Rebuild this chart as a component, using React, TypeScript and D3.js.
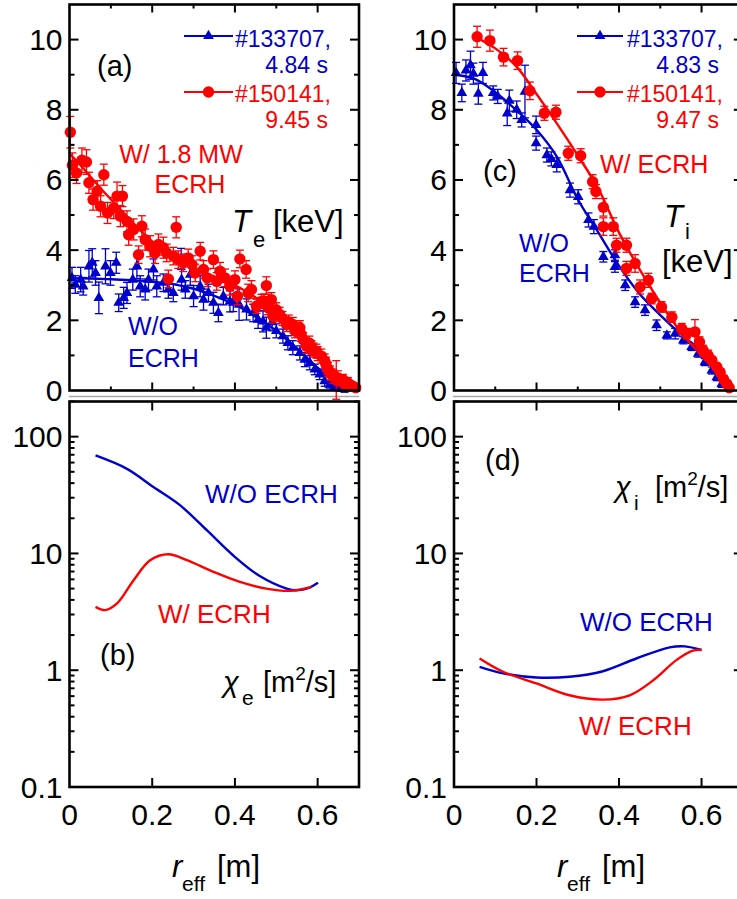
import React, { useEffect, useRef } from "react";
import * as d3 from "d3";

const BLUE = "#0000cc";
const RED = "#ff0000";
const FONT = "'Liberation Sans', Arial, Helvetica, sans-serif";

// (a) Te profiles, [r_eff, Te (keV), error]
const teBlue = [
  [0.006, 3.21, 0.3], [0.014, 3.02, 0.25], [0.027, 3.16, 0.35], [0.033, 2.97, 0.25],
  [0.047, 3.54, 0.45], [0.055, 3.64, 0.4], [0.063, 3.35, 0.35], [0.071, 2.64, 0.45],
  [0.087, 3.54, 0.5], [0.099, 3.35, 0.35], [0.113, 3.64, 0.3], [0.119, 2.5, 0.25],
  [0.131, 2.64, 0.3], [0.139, 2.78, 0.3], [0.153, 3.16, 0.3], [0.163, 3.54, 0.35],
  [0.171, 2.97, 0.3], [0.183, 2.88, 0.3], [0.191, 3.16, 0.3], [0.203, 3.45, 0.3],
  [0.211, 2.97, 0.3], [0.227, 3.07, 0.25], [0.239, 2.88, 0.25], [0.251, 2.78, 0.25],
  [0.27, 3.75, 0.3], [0.271, 3.16, 0.3], [0.28, 2.88, 0.25], [0.292, 3.3, 0.3],
  [0.3, 2.69, 0.3], [0.316, 2.97, 0.3], [0.324, 2.59, 0.3], [0.336, 2.78, 0.25],
  [0.348, 2.5, 0.3], [0.36, 2.21, 0.25], [0.372, 2.69, 0.25], [0.388, 2.54, 0.3],
  [0.396, 2.5, 0.25], [0.41, 2.45, 0.45], [0.428, 2.31, 0.3], [0.444, 2.21, 0.25],
  [0.456, 2.02, 0.25], [0.468, 1.97, 0.3], [0.476, 1.79, 0.3], [0.49, 1.95, 0.25],
  [0.5, 1.7, 0.2], [0.516, 1.55, 0.2], [0.528, 1.36, 0.2], [0.54, 1.22, 0.2],
  [0.557, 1.07, 0.2], [0.569, 0.88, 0.2], [0.581, 0.79, 0.2], [0.593, 0.6, 0.15],
  [0.605, 0.46, 0.15], [0.617, 0.27, 0.15], [0.629, 0.17, 0.1], [0.641, 0.12, 0.1],
  [0.653, 0.08, 0.1], [0.665, 0.05, 0.1],
];
const teRed = [
  [0.002, 7.36, 0.45], [0.007, 6.42, 0.35], [0.017, 6.2, 0.3], [0.03, 6.56, 0.35],
  [0.041, 6.51, 0.35], [0.047, 5.92, 0.3], [0.057, 5.44, 0.3], [0.067, 5.68, 0.3],
  [0.075, 5.25, 0.3], [0.083, 6.15, 0.3], [0.092, 5.06, 0.3], [0.107, 5.2, 0.3],
  [0.115, 5.54, 0.4], [0.123, 4.97, 0.3], [0.128, 5.54, 0.3], [0.139, 4.82, 0.3],
  [0.143, 4.44, 0.3], [0.155, 4.59, 0.3], [0.167, 3.87, 0.25], [0.175, 4.68, 0.3],
  [0.183, 4.3, 0.3], [0.195, 4.11, 0.3], [0.207, 3.92, 0.3], [0.215, 4.16, 0.3],
  [0.227, 4.07, 0.3], [0.235, 3.92, 0.25], [0.239, 3.18, 0.25], [0.251, 3.83, 0.25],
  [0.258, 4.65, 0.3], [0.263, 3.73, 0.25], [0.275, 3.64, 0.25], [0.287, 3.78, 0.25],
  [0.296, 3.59, 0.25], [0.304, 3.35, 0.25], [0.316, 3.97, 0.25], [0.324, 3.45, 0.25],
  [0.333, 3.21, 0.25], [0.348, 3.73, 0.25], [0.356, 3.11, 0.25], [0.364, 3.4, 0.25],
  [0.376, 3.21, 0.25], [0.388, 2.97, 0.25], [0.4, 3.16, 0.25], [0.406, 2.69, 0.25],
  [0.412, 3.75, 0.25], [0.427, 3.45, 0.25], [0.432, 2.78, 0.25], [0.44, 2.88, 0.25],
  [0.452, 2.4, 0.2], [0.464, 2.54, 0.2], [0.47, 2.55, 0.2], [0.476, 2.99, 0.25],
  [0.48, 2.36, 0.2], [0.488, 2.59, 0.2], [0.492, 2.12, 0.2], [0.5, 2.3, 0.2],
  [0.508, 2.17, 0.2], [0.515, 2.05, 0.2], [0.525, 1.88, 0.2], [0.53, 1.95, 0.2],
  [0.54, 1.88, 0.2], [0.545, 1.7, 0.2], [0.553, 1.74, 0.2], [0.557, 1.79, 0.2],
  [0.56, 1.6, 0.2], [0.565, 1.45, 0.2], [0.573, 1.26, 0.2], [0.58, 1.35, 0.2],
  [0.585, 1.22, 0.2], [0.59, 1.15, 0.2], [0.597, 1.12, 0.2], [0.6, 1.05, 0.2],
  [0.609, 0.98, 0.2], [0.617, 0.84, 0.2], [0.62, 0.75, 0.2], [0.625, 0.6, 0.2],
  [0.63, 0.5, 0.2], [0.637, 0.41, 0.2], [0.645, 0.3, 0.55], [0.649, 0.36, 0.2],
  [0.655, 0.28, 0.15], [0.661, 0.31, 0.15], [0.665, 0.2, 0.15], [0.673, 0.22, 0.15],
  [0.68, 0.15, 0.1], [0.685, 0.12, 0.1], [0.692, 0.08, 0.1],
];
// (a) fitted Te, [r_eff, Te]
const teBlueFit = [
  [0, 3.2], [0.05, 3.19], [0.1, 3.17], [0.15, 3.14], [0.2, 3.1], [0.25, 3.03], [0.3, 2.9],
  [0.35, 2.7], [0.4, 2.45], [0.45, 2.1], [0.5, 1.7], [0.55, 1.2], [0.6, 0.65], [0.65, 0.15], [0.68, 0.02],
];
const teRedFit = [
  [0, 6.75], [0.025, 6.44], [0.05, 6.1], [0.08, 5.7], [0.12, 5.2], [0.16, 4.7], [0.2, 4.25],
  [0.25, 3.85], [0.3, 3.5], [0.35, 3.25], [0.4, 3.0], [0.45, 2.65], [0.5, 2.25], [0.55, 1.8],
  [0.6, 1.15], [0.65, 0.45], [0.69, 0.1],
];

// (c) Ti profiles, [r_eff, Ti (keV), error]
const tiBlue = [
  [0.005, 9.05, 0.3], [0.019, 8.48, 0.25], [0.029, 9.12, 0.3], [0.04, 9.27, 0.4],
  [0.047, 9.03, 0.3], [0.059, 8.46, 0.3], [0.07, 9.05, 0.3], [0.095, 8.48, 0.2],
  [0.106, 8.38, 0.2], [0.129, 7.9, 0.35], [0.134, 8.26, 0.3], [0.152, 8.0, 0.25],
  [0.164, 7.71, 0.2], [0.172, 8.52, 0.75], [0.199, 7.57, 0.25], [0.199, 7.05, 0.2],
  [0.225, 6.71, 0.2], [0.236, 6.6, 0.2], [0.249, 6.43, 0.2], [0.281, 5.71, 0.2],
  [0.301, 5.52, 0.2], [0.326, 4.86, 0.2], [0.339, 4.67, 0.2], [0.362, 3.81, 0.15],
  [0.39, 3.86, 0.15], [0.39, 3.52, 0.15], [0.415, 3.0, 0.15], [0.439, 2.52, 0.15],
  [0.463, 2.29, 0.15], [0.491, 1.86, 0.15], [0.516, 1.57, 0.1], [0.536, 1.62, 0.15],
  [0.556, 1.43, 0.1], [0.576, 1.24, 0.1], [0.592, 1.05, 0.1], [0.608, 0.81, 0.1],
  [0.625, 0.57, 0.1], [0.637, 0.38, 0.1], [0.649, 0.19, 0.1],
];
const tiRed = [
  [0.056, 10.08, 0.3], [0.087, 9.97, 0.3], [0.12, 9.5, 0.25], [0.154, 9.4, 0.25],
  [0.184, 8.54, 0.25], [0.219, 7.9, 0.2], [0.247, 7.93, 0.2], [0.277, 6.76, 0.2],
  [0.307, 6.69, 0.2], [0.336, 5.95, 0.2], [0.344, 5.67, 0.2], [0.362, 5.22, 0.25],
  [0.362, 4.67, 0.25], [0.386, 4.67, 0.25], [0.394, 4.14, 0.2], [0.418, 4.14, 0.2],
  [0.418, 3.48, 0.2], [0.439, 3.62, 0.25], [0.451, 2.95, 0.2], [0.471, 3.14, 0.2],
  [0.479, 2.62, 0.15], [0.503, 2.38, 0.15], [0.528, 2.09, 0.15], [0.552, 1.76, 0.15],
  [0.564, 1.62, 0.15], [0.584, 1.67, 0.35], [0.595, 1.38, 0.15], [0.604, 1.14, 0.15],
  [0.616, 1.0, 0.15], [0.625, 0.86, 0.1], [0.637, 0.67, 0.1], [0.645, 0.52, 0.1],
  [0.653, 0.33, 0.1], [0.661, 0.19, 0.1], [0.667, 0.08, 0.1],
];
// (c) fitted Ti, [r_eff, Ti]
const tiBlueFit = [
  [0, 9.0], [0.05, 8.88], [0.1, 8.5], [0.15, 8.0], [0.2, 7.43], [0.25, 6.65], [0.3, 5.45],
  [0.35, 4.5], [0.4, 3.55], [0.45, 2.75], [0.5, 2.15], [0.55, 1.6], [0.6, 1.1], [0.65, 0.3], [0.66, 0.1],
];
const tiRedFit = [
  [0.056, 10.05], [0.1, 9.75], [0.15, 9.25], [0.2, 8.45], [0.25, 7.6], [0.3, 6.7], [0.35, 5.75],
  [0.4, 4.5], [0.45, 3.45], [0.5, 2.5], [0.55, 1.66], [0.6, 1.0], [0.65, 0.35], [0.67, 0.02],
];

// (b) chi_e and (d) chi_i, [r_eff, chi (m^2/s)]
const chiEBlue = [
  [0.063, 69], [0.139, 53], [0.203, 37], [0.267, 25.9], [0.332, 15.8], [0.396, 9.6],
  [0.46, 6.4], [0.525, 5.0], [0.549, 4.84], [0.581, 5.1], [0.601, 5.6],
];
const chiERed = [
  [0.063, 3.49], [0.087, 3.27], [0.115, 3.73], [0.155, 5.9], [0.195, 8.75], [0.239, 9.84],
  [0.284, 8.75], [0.348, 6.95], [0.412, 5.7], [0.476, 5.0], [0.533, 4.78], [0.585, 5.17],
];
const chiIBlue = [
  [0.062, 1.07], [0.119, 0.94], [0.2, 0.867], [0.28, 0.88], [0.361, 0.98], [0.442, 1.26],
  [0.523, 1.57], [0.56, 1.6], [0.6, 1.49],
];
const chiIRed = [
  [0.062, 1.26], [0.119, 0.97], [0.2, 0.77], [0.28, 0.61], [0.361, 0.56], [0.426, 0.61],
  [0.483, 0.82], [0.539, 1.22], [0.579, 1.47], [0.6, 1.49],
];

const tLabels = ["0", "2", "4", "6", "8", "10"];
const chiLabels = ["0.1", "1", "10", "100"];
const rLabels = ["0", "0.2", "0.4", "0.6"];

const App = () => {
  const ref = useRef<SVGSVGElement>(null);

  useEffect(() => {
    const svg = d3.select(ref.current);
    svg.selectAll("*").remove();
    svg.attr("font-family", FONT);

    const xL = d3.scaleLinear().domain([0, 0.7]).range([69.5, 359]);
    const xR = d3.scaleLinear().domain([0, 0.7]).range([454, 742.8]);
    const yT = d3.scaleLinear().domain([0, 11]).range([390.5, 4.5]);
    const yChi = d3.scaleLog().domain([0.1, 200]).range([787, 401.5]);

    const text = (x, y, s, size, fill = "#000", anchor = "start", italic = false) =>
      svg.append("text").attr("x", x).attr("y", y).attr("font-size", size)
        .attr("fill", fill).attr("text-anchor", anchor)
        .attr("font-style", italic ? "italic" : "normal").text(s);

    const frame = (x, y, log, withX) => {
      const [x0, x1] = x.range();
      const [yb, yt] = y.range();
      const g = svg.append("g").attr("stroke", "#000").attr("stroke-width", 2);
      let yt_ = [];
      if (log) {
        [0.1, 1, 10, 100].forEach((d) =>
          d3.range(1, 10).forEach((k) => {
            if (d * k <= 200) yt_.push({ v: d * k, len: k === 1 ? 9 : 5 });
          })
        );
      } else {
        yt_ = d3.range(1, 11).map((v) => ({ v, len: v % 2 === 0 ? 9 : 5 }));
      }
      yt_.forEach(({ v, len }) => {
        g.append("line").attr("x1", x0).attr("x2", x0 + len).attr("y1", y(v)).attr("y2", y(v));
        g.append("line").attr("x1", x1).attr("x2", x1 - len).attr("y1", y(v)).attr("y2", y(v));
      });
      const xt = log
        ? [0.2, 0.4, 0.6].map((v) => ({ v, len: 9 }))
        : d3.range(1, 7).map((i) => ({ v: i / 10, len: i % 2 === 0 ? 8 : 4 }));
      xt.forEach(({ v, len }) => {
        g.append("line").attr("x1", x(v)).attr("x2", x(v)).attr("y1", yb).attr("y2", yb - len);
        g.append("line").attr("x1", x(v)).attr("x2", x(v)).attr("y1", yt).attr("y2", yt + len);
      });
      g.append("rect").attr("x", x0).attr("y", yt).attr("width", x1 - x0)
        .attr("height", yb - yt).attr("fill", "none").attr("stroke-width", 2.6);

      (log ? chiLabels : tLabels).forEach((s) =>
        text(x0 - 7, y(+s) + 10.5, s, 30, "#000", "end")
      );
      if (withX) rLabels.forEach((s) => text(x(+s), 825, s, 30, "#000", "middle"));
    };

    const tri = d3.symbol().type(d3.symbolTriangle).size(50);
    const line = (x, y) =>
      d3.line().x((d) => x(d[0])).y((d) => y(d[1])).curve(d3.curveCatmullRom.alpha(0.5));

    const series = (pts, fit, x, y, color, circle) => {
      const g = svg.append("g");
      const eb = g.append("g").attr("stroke", color).attr("stroke-width", 1.3);
      pts.forEach(([r, v, e]) => {
        const cx = x(r);
        eb.append("line").attr("x1", cx).attr("x2", cx).attr("y1", y(v - e)).attr("y2", y(v + e));
        eb.append("line").attr("x1", cx - 4).attr("x2", cx + 4).attr("y1", y(v + e)).attr("y2", y(v + e));
        eb.append("line").attr("x1", cx - 4).attr("x2", cx + 4).attr("y1", y(v - e)).attr("y2", y(v - e));
      });
      g.append("path").attr("d", line(x, y)(fit)).attr("fill", "none")
        .attr("stroke", color).attr("stroke-width", 2.4);
      if (circle) {
        g.selectAll("circle").data(pts).join("circle")
          .attr("cx", (d) => x(d[0])).attr("cy", (d) => y(d[1])).attr("r", 5.7).attr("fill", color);
      } else {
        g.selectAll("path.m").data(pts).join("path").attr("class", "m")
          .attr("transform", (d) => `translate(${x(d[0])},${y(d[1])})`)
          .attr("d", tri()).attr("fill", color);
      }
    };

    const curve = (pts, x, color) =>
      svg.append("path").attr("d", line(x, yChi)(pts)).attr("fill", "none")
        .attr("stroke", color).attr("stroke-width", 2.4);

    const legend = (x0, x1, y, color, circle) => {
      svg.append("line").attr("x1", x0).attr("x2", x1).attr("y1", y).attr("y2", y)
        .attr("stroke", color).attr("stroke-width", 2.2);
      const cx = (x0 + x1) / 2;
      if (circle) svg.append("circle").attr("cx", cx).attr("cy", y).attr("r", 5.7).attr("fill", color);
      else svg.append("path").attr("transform", `translate(${cx},${y})`).attr("d", tri()).attr("fill", color);
    };

    // separator line between the rows
    [[69, 359], [453, 737]].forEach(([a, b]) =>
      svg.append("line").attr("x1", a).attr("x2", b).attr("y1", 396.5).attr("y2", 396.5)
        .attr("stroke", "#a8a8a8").attr("stroke-width", 1.5)
    );

    // (a)
    series(teBlue, teBlueFit, xL, yT, BLUE, false);
    series(teRed, teRedFit, xL, yT, RED, true);
    frame(xL, yT, false, false);
    legend(184, 233, 36, BLUE, false);
    text(235, 47, "#133707,", 23, BLUE);
    text(328, 73, "4.84 s", 23, BLUE, "end");
    legend(184, 233, 92, RED, true);
    text(235, 102, "#150141,", 23, RED);
    text(328, 128, "9.45 s", 23, RED, "end");
    text(97, 76, "(a)", 29);
    text(181, 163, "W/ 1.8 MW", 25, RED, "middle");
    text(190, 193, "ECRH", 25, RED, "middle");
    text(232, 232, "T", 31, "#000", "start", true);
    text(253, 247, "e", 22);
    text(273, 232, "[keV]", 31);
    text(128, 335, "W/O", 25, BLUE);
    text(128, 367, "ECRH", 25, BLUE);

    // (c)
    series(tiBlue, tiBlueFit, xR, yT, BLUE, false);
    series(tiRed, tiRedFit, xR, yT, RED, true);
    frame(xR, yT, false, false);
    legend(577, 623, 36, BLUE, false);
    text(627, 47, "#133707,", 23, BLUE);
    text(719, 73, "4.83 s", 23, BLUE, "end");
    legend(577, 623, 92, RED, true);
    text(627, 102, "#150141,", 23, RED);
    text(719, 128, "9.47 s", 23, RED, "end");
    text(483, 181, "(c)", 29);
    text(600, 173, "W/ ECRH", 25, RED);
    text(664, 227, "T", 31, "#000", "start", true);
    text(685, 239, "i", 22);
    text(662, 272, "[keV]", 31);
    text(519, 252, "W/O", 25, BLUE);
    text(519, 282, "ECRH", 25, BLUE);

    // (b)
    curve(chiEBlue, xL, BLUE);
    curve(chiERed, xL, RED);
    frame(xL, yChi, true, true);
    text(205, 503, "W/O ECRH", 26, BLUE);
    text(158, 623, "W/ ECRH", 26, RED);
    text(100, 665, "(b)", 29);
    const chiLabel = (x, y, sub) => {
      text(x, y, "\u03c7", 29, "#000", "start", true);
      text(x + 19, y + 13, sub, 21);
      const t = text(x + 40, y, "[m", 29);
      t.append("tspan").attr("dy", -12).attr("font-size", 19).text("2");
      t.append("tspan").attr("dy", 12).attr("font-size", 29).text("/s]");
    };
    chiLabel(223, 692, "e");

    // (d)
    curve(chiIBlue, xR, BLUE);
    curve(chiIRed, xR, RED);
    frame(xR, yChi, true, true);
    text(485, 470, "(d)", 29);
    chiLabel(615, 497, "i");
    text(580, 631, "W/O ECRH", 26, BLUE);
    text(579, 735, "W/ ECRH", 26, RED);

    // x axis titles
    [172, 557].forEach((x) => {
      text(x, 877, "r", 31, "#000", "start", true);
      text(x + 10, 891, "eff", 21);
      text(x + 45, 877, "[m]", 31);
    });
  }, []);

  return (
    <svg
      ref={ref}
      width={737}
      height={899}
      style={{ position: "absolute", left: 0, top: 0, background: "#fff", display: "block" }}
    />
  );
};

export default App;
